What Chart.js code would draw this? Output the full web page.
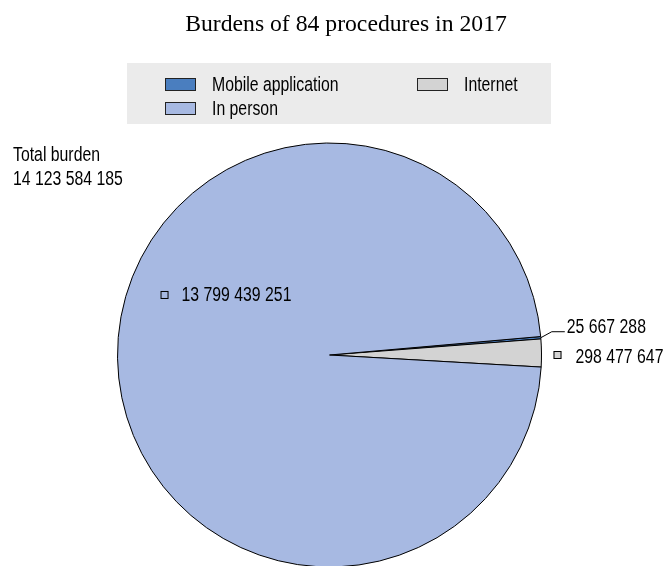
<!DOCTYPE html>
<html>
<head>
<meta charset="utf-8">
<script src="https://cdn.jsdelivr.net/npm/chart.js@4/dist/chart.umd.min.js"></script>
<style>
  html, body { margin: 0; padding: 0; background: #fff; overflow: hidden; }
  canvas { display: block; }
</style>
</head>
<body>
<canvas id="c" width="664" height="566"></canvas>
<script>
// Burdens by channel, 84 procedures, 2017
const categories = ['Mobile application', 'Internet', 'In person'];
const burdens = [25667288, 298477647, 13799439251];
const totalBurden = 14123584185;
const sliceColors = ['#4A7EBF', '#D3D3D3', '#A7B9E2'];

const titleText = 'Burdens of 84 procedures in 2017';
const totalLabel = 'Total burden';

const fmt = n => String(n).replace(/\B(?=(\d{3})+(?!\d))/g, ' ');

const SANS = '19.3px "Liberation Sans", Arial, sans-serif';
const SERIF = '23.7px "Liberation Serif", "Times New Roman", serif';

// condensed sans text (Arial Narrow look)
function narrowText(ctx, text, x, y) {
  ctx.save();
  ctx.translate(x, y);
  ctx.scale(0.82, 1);
  ctx.fillText(text, 0, 0);
  ctx.restore();
}

const decorations = {
  id: 'decorations',
  afterDraw(chart) {
    const ctx = chart.ctx;
    const meta = chart.getDatasetMeta(0);
    const arcs = meta.data;
    ctx.save();
    ctx.fillStyle = '#000';
    ctx.textBaseline = 'alphabetic';

    // title
    ctx.font = SERIF;
    ctx.textAlign = 'center';
    ctx.fillText(titleText, 346, 31);

    // legend panel
    ctx.fillStyle = '#EBEBEB';
    ctx.fillRect(127, 63, 424, 61);
    ctx.font = SANS;
    ctx.textAlign = 'left';
    const colX = [165, 417];
    const rowY = [78, 102];
    categories.forEach((name, i) => {
      const x = colX[i % 2], y = rowY[Math.floor(i / 2)];
      ctx.fillStyle = sliceColors[i];
      ctx.fillRect(x, y, 31, 13);
      ctx.strokeStyle = '#222';
      ctx.lineWidth = 1;
      ctx.strokeRect(x + 0.5, y + 0.5, 30, 12);
      ctx.fillStyle = '#000';
      narrowText(ctx, name, x + 47, y + 13);
    });

    // total
    narrowText(ctx, totalLabel, 13, 161);
    narrowText(ctx, fmt(totalBurden), 13, 184.5);

    const a0 = arcs[0].getProps(['x', 'y', 'outerRadius', 'startAngle', 'endAngle'], true);
    const cx = a0.x, cy = a0.y, r = a0.outerRadius;

    const marker = (x, y, color) => {
      ctx.fillStyle = color;
      ctx.fillRect(x, y, 8, 8);
      ctx.strokeStyle = '#000';
      ctx.lineWidth = 1;
      ctx.strokeRect(x + 0.5, y + 0.5, 7, 7);
      ctx.fillStyle = '#000';
    };

    // in person label, inside the slice
    const ipx = cx - 0.797 * r, ipy = cy - 0.302 * r;
    marker(ipx, ipy, sliceColors[2]);
    narrowText(ctx, fmt(burdens[2]), ipx + 21, ipy + 10);

    // internet label, right of the pie
    const a1 = arcs[1].getProps(['startAngle', 'endAngle'], true);
    const mid1 = (a1.startAngle + a1.endAngle) / 2;
    const iy = cy + r * Math.sin(mid1);
    marker(cx + r + 12, iy - 2, sliceColors[1]);
    narrowText(ctx, fmt(burdens[1]), cx + r + 34, iy + 10);

    // mobile label with leader line
    const mid0 = (a0.startAngle + a0.endAngle) / 2;
    const ex = cx + r * Math.cos(mid0), ey = cy + r * Math.sin(mid0);
    ctx.strokeStyle = '#000';
    ctx.lineWidth = 1;
    ctx.beginPath();
    ctx.moveTo(ex, ey);
    ctx.lineTo(ex + 11, ey - 6);
    ctx.lineTo(ex + 24, ey - 6);
    ctx.stroke();
    narrowText(ctx, fmt(burdens[0]), ex + 26, ey - 5);

    ctx.restore();
  }
};

new Chart(document.getElementById('c'), {
  type: 'pie',
  data: {
    labels: categories,
    datasets: [{
      data: burdens,
      backgroundColor: sliceColors,
      borderColor: '#000',
      borderWidth: 1
    }]
  },
  options: {
    responsive: false,
    animation: false,
    rotation: 85,
    radius: 212,
    layout: { padding: { top: 144, bottom: 0, left: 0, right: 5 } },
    plugins: {
      legend: { display: false },
      title: { display: false },
      tooltip: { enabled: false }
    }
  },
  plugins: [decorations]
});
</script>
</body>
</html>
